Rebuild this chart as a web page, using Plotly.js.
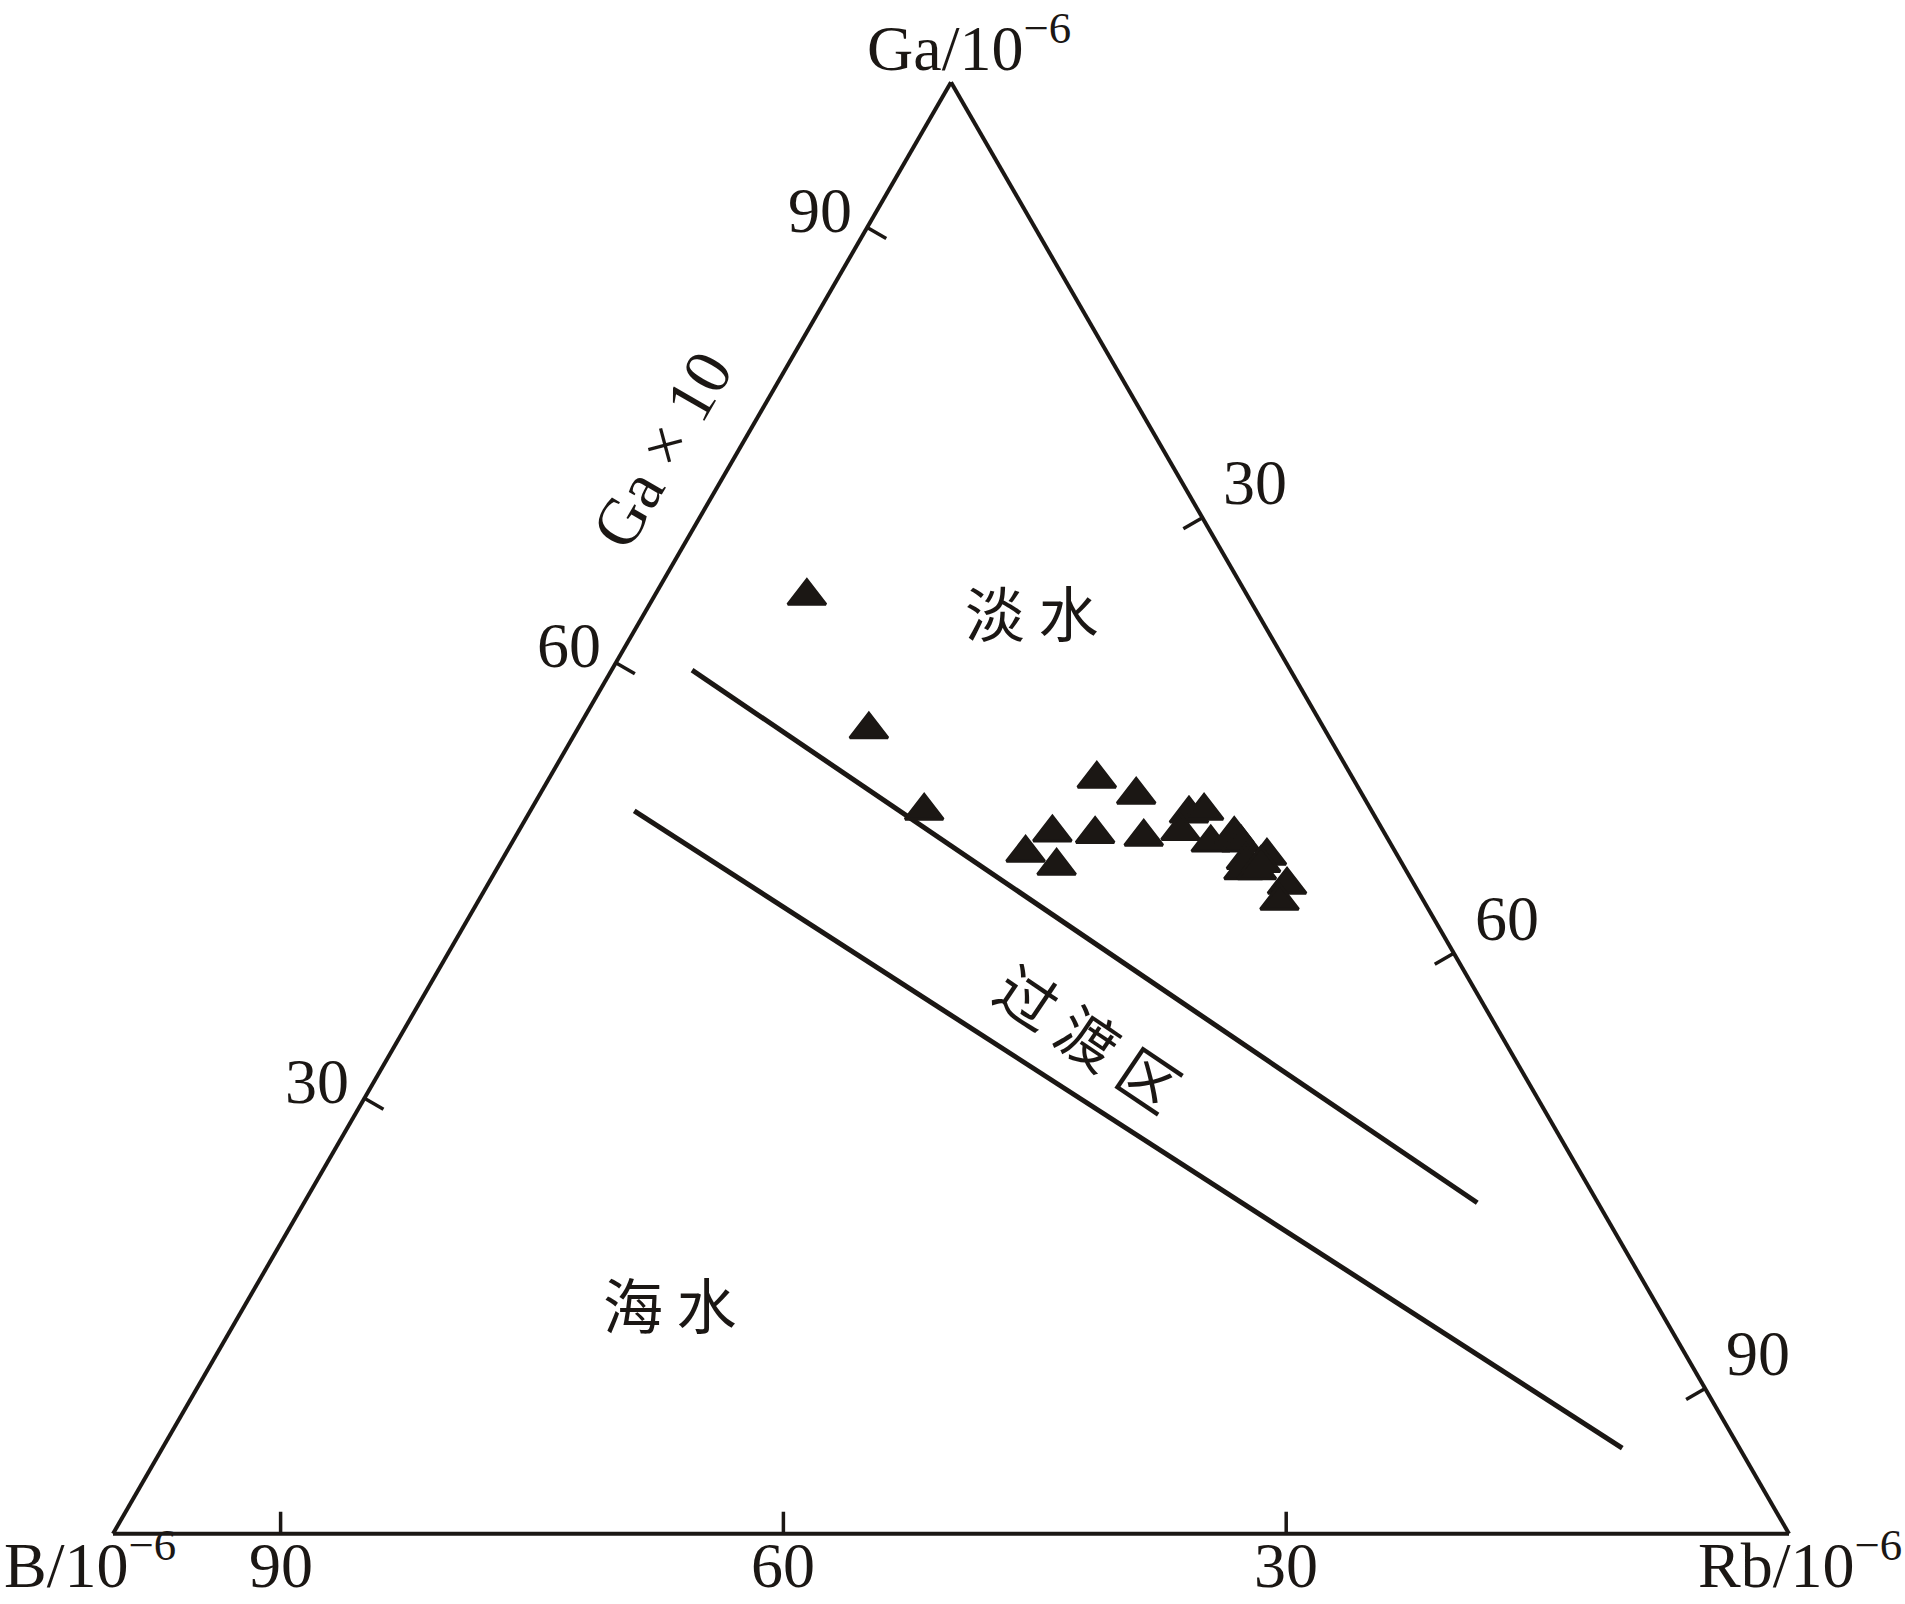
<!DOCTYPE html>
<html><head><meta charset="utf-8">
<script src="https://cdn.plot.ly/plotly-3.0.1.min.js"></script>
<style>html,body{margin:0;padding:0;background:#fff}</style>
</head><body><div id="chart" style="width:1905px;height:1604px"></div>
<script>
// Sample compositions (Ga×10, B, Rb), normalised to 100
const sampleGa = [64.6,55.4,49.8,52.0,50.9,48.3,48.2,48.0,46.9,46.0,49.6,49.8,48.4,47.6,48.2,47.6,46.7,45.7,46.4,45.7,44.7,43.6,46.2];
const sampleB  = [26.3,27.2,26.7,15.3,13.5,19.8,17.3,14.5,22.1,20.7,11.0,10.0,12.1,10.7, 9.0, 8.9, 7.8, 9.7, 9.2, 8.9, 7.6, 8.6, 8.4];
const sampleRb = [ 9.1,17.4,23.5,32.7,35.6,31.9,34.5,37.5,31.0,33.3,39.4,40.2,39.5,41.7,42.8,43.5,45.5,44.6,44.4,45.4,47.7,47.8,45.4];

// Boundary: freshwater / transition zone
const upperGa = [59.5, 22.8];
const upperB  = [35.7, 7.2];
const upperRb = [4.8, 70.0];
// Boundary: transition zone / seawater
const lowerGa = [49.8, 5.9];
const lowerB  = [44.0, 7.0];
const lowerRb = [6.2, 87.1];

const tickValues = [30, 60, 90];
const tickTexts = ['30', '60', '90'];

const regionLabels = ['淡 水', '过 渡 区', '海 水'];

const W = 1905, H = 1604;
const M = {l: 113, r: 116, t: 82, b: 70};
const plotW = W - M.l - M.r, plotH = H - M.t - M.b;
const triH = plotW * Math.sqrt(3) / 2;
const triY0 = M.t + (plotH - triH) / 2;

function px2paper(x, y) {
  return {x: (x - M.l) / plotW, y: 1 - (y - M.t) / plotH};
}
// ternary (percent) -> pixel, matching Plotly's ternary placement
function tern2px(a, b, c) {
  const s = a + b + c;
  a /= s; c /= s;
  return {x: M.l + plotW * (c + a / 2), y: triY0 + triH * (1 - a)};
}

const serif = 'Liberation Serif, Times New Roman, serif';
const cjk = 'Noto Sans CJK SC, sans-serif';
const ink = '#1b1714';

function axis() {
  return {
    title: {text: ''},
    min: 0,
    linecolor: ink, linewidth: 4,
    showgrid: false,
    ticks: '', showticklabels: false
  };
}

// inward perpendicular tick marks, built from the tick values
const tickLenPx = 22;
const k = (tickLenPx / plotW) * 100 / Math.sqrt(3);
const tA = [], tB = [], tC = [];
tickValues.forEach(v => {
  // Ga (left edge)
  tA.push(v, v - k, null); tB.push(100 - v, 100 - v - k, null); tC.push(0, 2 * k, null);
  // B (bottom edge)
  tA.push(0, 2 * k, null); tB.push(v, v - k, null); tC.push(100 - v, 100 - v - k, null);
  // Rb (right edge)
  tA.push(100 - v, 100 - v - k, null); tB.push(0, 2 * k, null); tC.push(v, v - k, null);
});

const traces = [
  {type: 'scatterternary', mode: 'lines', a: tA, b: tB, c: tC, connectgaps: false,
   line: {color: ink, width: 3.5}, hoverinfo: 'skip', showlegend: false, cliponaxis: false},
  {type: 'scatterternary', mode: 'lines', a: upperGa, b: upperB, c: upperRb,
   line: {color: ink, width: 5}, hoverinfo: 'skip', showlegend: false},
  {type: 'scatterternary', mode: 'lines', a: lowerGa, b: lowerB, c: lowerRb,
   line: {color: ink, width: 5}, hoverinfo: 'skip', showlegend: false},
  {type: 'scatterternary', mode: 'markers', a: sampleGa, b: sampleB, c: sampleRb,
   marker: {symbol: 'triangle-up', size: 33, color: ink, line: {color: ink, width: 3}},
   showlegend: false}
];

function ann(text, x, y, size, font, angle, xanchor, yanchor) {
  const p = px2paper(x, y);
  return {xref: 'paper', yref: 'paper', x: p.x, y: p.y, text: text, showarrow: false,
    textangle: angle || 0, xanchor: xanchor || 'center', yanchor: yanchor || 'middle',
    font: {family: font, size: size, color: ink}};
}

const annotations = [];
tickValues.forEach((v, i) => {
  let p = tern2px(v, 100 - v, 0);
  annotations.push(ann(tickTexts[i], p.x - 47, p.y - 17, 64, serif));
  p = tern2px(0, v, 100 - v);
  annotations.push(ann(tickTexts[i], p.x, H - 1, 64, serif, 0, 'center', 'bottom'));
  p = tern2px(100 - v, 0, v);
  annotations.push(ann(tickTexts[i], p.x + 53, p.y - 35, 64, serif));
});
annotations.push(
  ann('Ga/10<sup>−6</sup>', 969, 1, 64, serif, 0, 'center', 'top'),
  ann('B/10<sup>−6</sup>', 2, H - 1, 64, serif, 0, 'left', 'bottom'),
  ann('Rb/10<sup>−6</sup>', 1904, H - 1, 64, serif, 0, 'right', 'bottom'),
  ann('Ga × 10', 661, 450, 66, serif, -60),
  ann(regionLabels[0], 1031, 610, 60, cjk, 0),
  ann(regionLabels[1], 1090, 1035, 60, cjk, 34),
  ann(regionLabels[2], 669, 1302, 60, cjk, 0)
);

const layout = {
  width: W, height: H,
  margin: M,
  paper_bgcolor: '#ffffff',
  showlegend: false,
  ternary: {
    sum: 100,
    bgcolor: '#ffffff',
    aaxis: axis(), baxis: axis(), caxis: axis()
  },
  annotations: annotations
};

Plotly.newPlot('chart', traces, layout, {displayModeBar: false, staticPlot: true});
</script>
</body></html>
